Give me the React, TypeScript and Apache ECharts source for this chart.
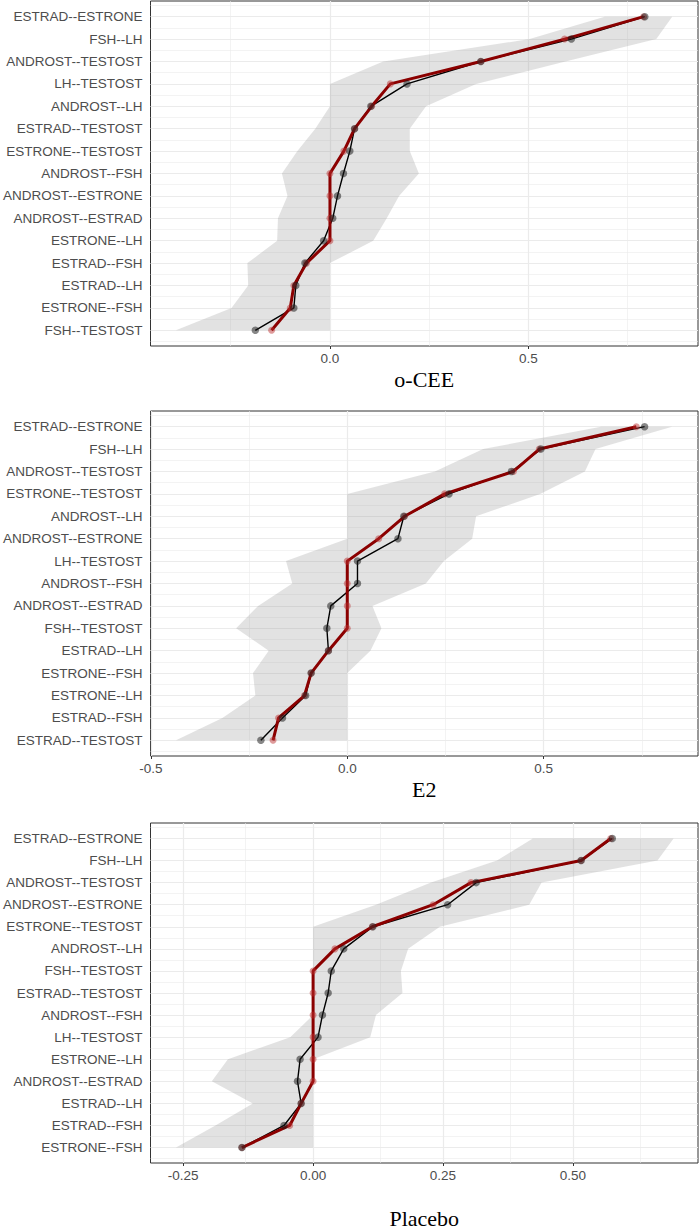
import React, { useEffect, useRef } from "react";
import * as echarts from "echarts";

// ---------- data ----------
const oceeCategories = [
  "ESTRAD--ESTRONE", "FSH--LH", "ANDROST--TESTOST", "LH--TESTOST", "ANDROST--LH",
  "ESTRAD--TESTOST", "ESTRONE--TESTOST", "ANDROST--FSH", "ANDROST--ESTRONE", "ANDROST--ESTRAD",
  "ESTRONE--LH", "ESTRAD--FSH", "ESTRAD--LH", "ESTRONE--FSH", "FSH--TESTOST",
];
const oceeBlack = [0.793, 0.608, 0.38, 0.194, 0.103, 0.062, 0.05, 0.034, 0.019, 0.007, -0.016, -0.063, -0.086, -0.091, -0.188];
const oceeRed = [0.79, 0.591, 0.38, 0.152, 0.105, 0.062, 0.035, 0, 0, 0, 0, -0.059, -0.091, -0.1, -0.147];
const oceeLower = [0.692, 0.503, 0.134, 0, 0, -0.037, -0.082, -0.121, -0.107, -0.131, -0.133, -0.208, -0.206, -0.248, -0.388];
const oceeUpper = [0.862, 0.822, 0.593, 0.368, 0.242, 0.201, 0.201, 0.224, 0.174, 0.143, 0.109, 0, 0, 0, 0];
const oceeXTicks = [0, 0.5];

const e2Categories = [
  "ESTRAD--ESTRONE", "FSH--LH", "ANDROST--TESTOST", "ESTRONE--TESTOST", "ANDROST--LH",
  "ANDROST--ESTRONE", "LH--TESTOST", "ANDROST--FSH", "ANDROST--ESTRAD", "FSH--TESTOST",
  "ESTRAD--LH", "ESTRONE--FSH", "ESTRONE--LH", "ESTRAD--FSH", "ESTRAD--TESTOST",
];
const e2Black = [0.757, 0.493, 0.418, 0.259, 0.144, 0.129, 0.026, 0.026, -0.042, -0.052, -0.048, -0.092, -0.106, -0.165, -0.22];
const e2Red = [0.736, 0.489, 0.423, 0.248, 0.146, 0.08, 0, 0, 0, 0, -0.048, -0.092, -0.109, -0.175, -0.189];
const e2Lower = [0.646, 0.346, 0.223, 0, 0, 0, -0.156, -0.14, -0.227, -0.283, -0.2, -0.24, -0.234, -0.318, -0.436];
const e2Upper = [0.827, 0.632, 0.605, 0.491, 0.328, 0.318, 0.246, 0.2, 0.064, 0.087, 0.059, 0, 0, 0, 0];
const e2XTicks = [-0.5, 0, 0.5];

const placeboCategories = [
  "ESTRAD--ESTRONE", "FSH--LH", "ANDROST--TESTOST", "ANDROST--ESTRONE", "ESTRONE--TESTOST",
  "ANDROST--LH", "FSH--TESTOST", "ESTRAD--TESTOST", "ANDROST--FSH", "LH--TESTOST",
  "ESTRONE--LH", "ANDROST--ESTRAD", "ESTRAD--LH", "ESTRAD--FSH", "ESTRONE--FSH",
];
const placeboBlack = [0.576, 0.516, 0.314, 0.259, 0.115, 0.059, 0.035, 0.029, 0.018, 0.0095, -0.025, -0.03, -0.023, -0.056, -0.137];
const placeboRed = [0.573, 0.516, 0.304, 0.231, 0.114, 0.042, 0, 0, 0, 0, 0, 0, -0.023, -0.045, -0.137];
const placeboLower = [0.423, 0.354, 0.227, 0.121, 0, 0, 0, 0, 0, -0.044, -0.164, -0.195, -0.116, -0.188, -0.264];
const placeboUpper = [0.694, 0.663, 0.44, 0.416, 0.244, 0.183, 0.169, 0.172, 0.121, 0.11, 0, 0, 0, 0, 0];
const placeboXTicks = [-0.25, 0, 0.25, 0.5];

const panelTitles = ["o-CEE", "E2", "Placebo"];

// ---------- layout / style ----------
const GRID_LEFT = 150;
const GRID_WIDTH = 548;
const GRID_HEIGHT = 345;
const PANEL_TOPS = [1, 411, 823];
const NAME_GAPS = [22, 22, 44];
const X_RANGES = [
  [-0.452, 0.927],
  [-0.501, 0.893],
  [-0.313, 0.741],
];
const DECIMALS = [1, 1, 2];
const Y_PAD = 0.7;

const panels = [
  { cats: oceeCategories, black: oceeBlack, red: oceeRed, lower: oceeLower, upper: oceeUpper, ticks: oceeXTicks },
  { cats: e2Categories, black: e2Black, red: e2Red, lower: e2Lower, upper: e2Upper, ticks: e2XTicks },
  { cats: placeboCategories, black: placeboBlack, red: placeboRed, lower: placeboLower, upper: placeboUpper, ticks: placeboXTicks },
];

const GRID_COLOR = "#ebebeb";
const LABEL_COLOR = "#4d4d4d";
const SANS = "Liberation Sans, Arial, sans-serif";
const SERIF = "Liberation Serif, Times New Roman, serif";

function buildOption() {
  const grid: any[] = [];
  const xAxis: any[] = [];
  const yAxis: any[] = [];
  const series: any[] = [];

  panels.forEach((p, k) => {
    const n = p.cats.length;
    const [xMin, xMax] = X_RANGES[k];
    const step = p.ticks[1] - p.ticks[0];
    const minorX: number[] = [];
    for (let v = p.ticks[0] - step / 2; v <= xMax; v += step) {
      if (v >= xMin) minorX.push(v);
    }
    const majorY = p.cats.map((_, i) => i + 1);
    const minorY = [0, ...majorY].map((v) => v + 0.5);

    grid.push({
      left: GRID_LEFT,
      top: PANEL_TOPS[k],
      width: GRID_WIDTH,
      height: GRID_HEIGHT,
      show: true,
      borderColor: "#333333",
      borderWidth: 1,
      backgroundColor: "transparent",
    });

    xAxis.push({
      type: "value",
      gridIndex: k,
      min: xMin,
      max: xMax,
      axisLine: { show: false },
      splitLine: { show: false },
      axisTick: { show: true, length: 3, lineStyle: { color: "#333333", width: 1 }, customValues: p.ticks },
      axisLabel: {
        customValues: p.ticks,
        formatter: (v: number) => v.toFixed(DECIMALS[k]),
        color: LABEL_COLOR,
        fontSize: 13.5,
        fontFamily: SANS,
        margin: 5,
      },
      name: panelTitles[k],
      nameLocation: "middle",
      nameGap: NAME_GAPS[k],
      nameTextStyle: { fontFamily: SERIF, fontSize: 22, color: "#000000" },
    });

    yAxis.push({
      type: "value",
      gridIndex: k,
      inverse: true,
      min: 1 - Y_PAD,
      max: n + Y_PAD,
      axisLine: { show: false },
      splitLine: { show: false },
      axisTick: { show: true, length: 3, lineStyle: { color: "#333333", width: 1 }, customValues: majorY },
      axisLabel: {
        customValues: majorY,
        formatter: (v: number) => p.cats[Math.round(v) - 1] ?? "",
        color: LABEL_COLOR,
        fontSize: 13.5,
        fontFamily: SANS,
        margin: 8,
      },
    });

    const minorStyle = { color: GRID_COLOR, width: 0.6, type: "solid" };
    const majorStyle = { color: GRID_COLOR, width: 1.2, type: "solid" };

    series.push({
      type: "line",
      xAxisIndex: k,
      yAxisIndex: k,
      data: [],
      silent: true,
      z: 1,
      markLine: {
        silent: true,
        z: 1,
        symbol: ["none", "none"],
        label: { show: false },
        emphasis: { disabled: true },
        lineStyle: { type: "solid" },
        data: [
          ...minorY.map((v) => ({ yAxis: v, lineStyle: minorStyle })),
          ...minorX.map((v) => ({ xAxis: v, lineStyle: minorStyle })),
          ...majorY.map((v) => ({ yAxis: v, lineStyle: majorStyle })),
          ...p.ticks.map((v) => ({ xAxis: v, lineStyle: majorStyle })),
        ],
      },
    });

    series.push({
      type: "custom",
      xAxisIndex: k,
      yAxisIndex: k,
      silent: true,
      z: 2,
      data: p.lower.map((v, i) => [v, p.upper[i], i + 1]),
      encode: { x: [0, 1], y: 2 },
      renderItem: (params: any, api: any) => {
        if (params.dataIndex !== 0) return null;
        const pts: number[][] = [];
        for (let i = 0; i < n; i++) pts.push(api.coord([p.lower[i], i + 1]));
        for (let i = n - 1; i >= 0; i--) pts.push(api.coord([p.upper[i], i + 1]));
        return {
          type: "polygon",
          shape: { points: pts },
          style: { fill: "rgba(150,150,150,0.28)", stroke: "none" },
        };
      },
    });

    series.push({
      type: "line",
      xAxisIndex: k,
      yAxisIndex: k,
      z: 3,
      silent: true,
      symbol: "none",
      data: p.black.map((v, i) => [v, i + 1]),
      lineStyle: { color: "#000000", width: 1.4 },
    });

    series.push({
      type: "line",
      xAxisIndex: k,
      yAxisIndex: k,
      z: 4,
      silent: true,
      symbol: "none",
      data: p.red.map((v, i) => [v, i + 1]),
      lineStyle: { color: "#8b0000", width: 3 },
    });

    series.push({
      type: "scatter",
      xAxisIndex: k,
      yAxisIndex: k,
      z: 5,
      silent: true,
      symbolSize: 7,
      data: p.red.map((v, i) => [v, i + 1]),
      itemStyle: { color: "rgba(185,45,45,0.6)" },
    });

    series.push({
      type: "scatter",
      xAxisIndex: k,
      yAxisIndex: k,
      z: 6,
      silent: true,
      symbolSize: 7.5,
      data: p.black.map((v, i) => [v, i + 1]),
      itemStyle: { color: "rgba(25,25,25,0.65)" },
    });
  });

  return {
    animation: false,
    backgroundColor: "#ffffff",
    grid,
    xAxis,
    yAxis,
    series,
  };
}

export default function App() {
  const ref = useRef<HTMLDivElement>(null);
  useEffect(() => {
    if (!ref.current) return;
    const chart = echarts.init(ref.current, undefined, { renderer: "svg" });
    chart.setOption(buildOption() as any);
    return () => chart.dispose();
  }, []);
  return (
    <div
      ref={ref}
      style={{ position: "fixed", left: 0, top: 0, width: 700, height: 1230, background: "#ffffff" }}
    />
  );
}
